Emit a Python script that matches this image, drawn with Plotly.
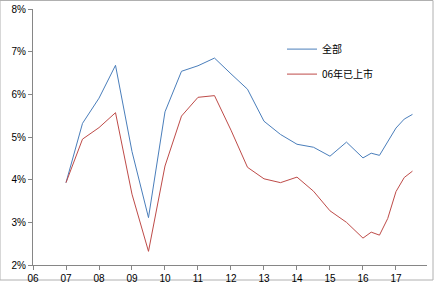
import plotly.graph_objects as go

years = [2007, 2007.5, 2008, 2008.5, 2009, 2009.5, 2010, 2010.5, 2011, 2011.5,
         2012, 2012.5, 2013, 2013.5, 2014, 2014.5, 2015, 2015.5, 2016, 2016.25,
         2016.5, 2016.75, 2017, 2017.25, 2017.5]
all_rate = [3.93, 5.32, 5.91, 6.68, 4.66, 3.11, 5.59, 6.54, 6.67, 6.85,
            6.48, 6.12, 5.37, 5.06, 4.83, 4.76, 4.55, 4.88, 4.51, 4.62,
            4.57, 4.89, 5.21, 5.42, 5.53]
listed06_rate = [3.93, 4.95, 5.22, 5.57, 3.66, 2.32, 4.32, 5.49, 5.93, 5.97,
                 5.16, 4.29, 4.02, 3.93, 4.06, 3.73, 3.27, 3.00, 2.63, 2.77,
                 2.70, 3.09, 3.72, 4.05, 4.20]
x_tick_vals = list(range(2006, 2018))
x_tick_text = ["06", "07", "08", "09", "10", "11", "12", "13", "14", "15", "16", "17"]
y_tick_vals = [2, 3, 4, 5, 6, 7, 8]
y_tick_text = ["2%", "3%", "4%", "5%", "6%", "7%", "8%"]

fig = go.Figure()
fig.add_trace(go.Scatter(x=years, y=all_rate, mode="lines", name="全部",
                         line=dict(color="#4a7ebb", width=1), legendgroup="a"))
fig.add_trace(go.Scatter(x=years, y=listed06_rate, mode="lines", name="06年已上市",
                         line=dict(color="#be4b48", width=1), legendgroup="b"))

font_family = "Liberation Sans, Arial, Noto Sans CJK SC, sans-serif"
fig.update_layout(
    template="none",
    width=435, height=284,
    margin=dict(l=33, r=8, t=9, b=19, autoexpand=False),
    paper_bgcolor="white", plot_bgcolor="white",
    font=dict(family=font_family, size=10, color="#000000"),
    showlegend=True,
    legend=dict(x=0.632, y=0.9, xanchor="left", yanchor="top",
                bgcolor="rgba(0,0,0,0)", font=dict(size=10, family="Noto Sans CJK SC, sans-serif"),
                tracegroupgap=6, itemwidth=30, traceorder="grouped"),
    xaxis=dict(range=[2006, 2017.94], tickvals=x_tick_vals, ticktext=x_tick_text,
               showgrid=False, zeroline=False, showline=True, linecolor="#868686",
               linewidth=1, ticks="outside", ticklen=4, tickcolor="#868686",
               tickfont=dict(size=10), automargin=False, fixedrange=True),
    yaxis=dict(range=[2, 8], tickvals=y_tick_vals, ticktext=y_tick_text,
               showgrid=False, zeroline=False, showline=True, linecolor="#868686",
               linewidth=1, ticks="outside", ticklen=4, tickcolor="#868686",
               tickfont=dict(size=10), automargin=False, fixedrange=True),
)
fig.add_shape(type="rect", xref="paper", yref="paper",
              x0=-33/394, x1=(433-33)/394, y0=-(280-265)/256, y1=(265-0.5)/256,
              line=dict(color="#b0b0b0", width=1), fillcolor="rgba(0,0,0,0)", layer="below")
fig.write_html("out.html")
